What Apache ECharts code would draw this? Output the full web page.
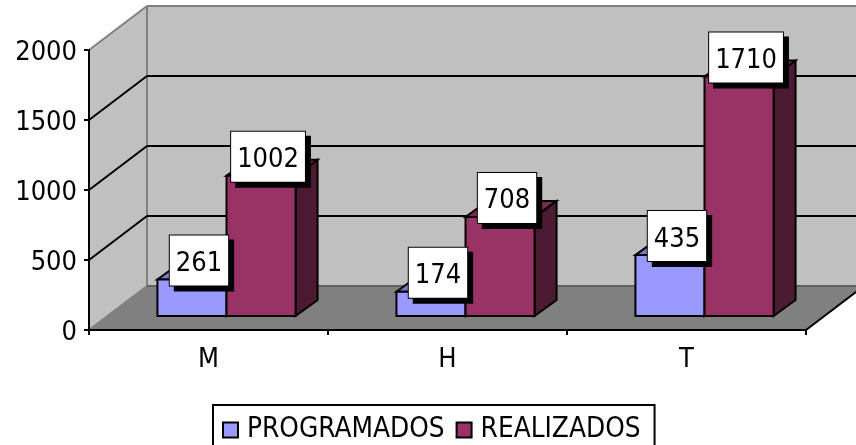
<!DOCTYPE html>
<html>
<head>
<meta charset="utf-8">
<style>
  html, body { margin: 0; padding: 0; background: #fff; }
  #chart { width: 856px; height: 445px; }
</style>
<script src="https://cdn.jsdelivr.net/npm/echarts@6/dist/echarts.min.js"></script>
</head>
<body>
<div id="chart"></div>
<script>
const categories = ['M', 'H', 'T']
const programados = [261, 174, 435]
const realizados = [1002, 708, 1710]
const valueTicks = [0, 500, 1000, 1500, 2000]

const FONT = '"DejaVu Sans Condensed", "DejaVu Sans", Verdana, sans-serif'
// depth of the fake 3D box, in pixels
const DEPTH = { x: 58, y: -44 }
const BAR_FRONT = { x: 18, y: -14 }
const BAR_DEPTH = { x: 22, y: -16 }
const BAR_RATIO = 0.289

const poly = (points, fill, stroke, lineWidth) => ({
  type: 'polygon',
  shape: { points },
  style: { fill, stroke: stroke || null, lineWidth: lineWidth || 0 }
})
const line = (x1, y1, x2, y2, stroke, lineWidth) => ({
  type: 'line',
  shape: { x1, y1, x2, y2 },
  style: { stroke, lineWidth }
})

// walls and floor, plus one gridline per tick value
const renderWalls = (params, api) => {
  const box = params.coordSys
  const y = api.coord([0, api.value(1)])[1]
  const left = box.x
  const right = box.x + box.width
  const bottom = box.y + box.height
  const top = box.y
  const children = []
  if (params.dataIndex === 0) {
    children.push(
      poly([[left, bottom], [left + DEPTH.x, bottom + DEPTH.y], [left + DEPTH.x, top + DEPTH.y], [left, top]], '#c0c0c0'),
      poly([[left + DEPTH.x, bottom + DEPTH.y], [right + DEPTH.x, bottom + DEPTH.y], [right + DEPTH.x, top + DEPTH.y], [left + DEPTH.x, top + DEPTH.y]], '#c0c0c0'),
      poly([[left, bottom], [right, bottom], [right + DEPTH.x, bottom + DEPTH.y], [left + DEPTH.x, bottom + DEPTH.y]], '#808080'),
      line(left + DEPTH.x, bottom + DEPTH.y, left + DEPTH.x, top + DEPTH.y, '#808080', 2),
      line(left + DEPTH.x, top + DEPTH.y, right + DEPTH.x, top + DEPTH.y, '#808080', 2),
      line(left, top, left + DEPTH.x, top + DEPTH.y, '#808080', 2),
      line(left, bottom, left + DEPTH.x, bottom + DEPTH.y, '#808080', 2),
      line(left + DEPTH.x, bottom + DEPTH.y, right + DEPTH.x, bottom + DEPTH.y, '#606060', 2),
      line(right, bottom, right + DEPTH.x, bottom + DEPTH.y, '#000', 2)
    )
  } else if (api.value(1) < 2000) {
    children.push(
      line(left, y, left + DEPTH.x, y + DEPTH.y, '#000', 2),
      line(left + DEPTH.x, y + DEPTH.y, right + DEPTH.x, y + DEPTH.y, '#000', 2)
    )
  }
  return { type: 'group', children }
}

const makeBarRender = (slot, colors) => (params, api) => {
  const value = api.value(1)
  const [cx, yTop] = api.coord([api.value(0), value])
  const yBase = api.coord([api.value(0), 0])[1]
  const w = api.size([1, 0])[0] * BAR_RATIO
  const x0 = cx + BAR_FRONT.x + (slot - 1) * w
  const x1 = x0 + w
  const y0 = yBase + BAR_FRONT.y
  const y1 = yTop + BAR_FRONT.y
  const dx = BAR_DEPTH.x
  const dy = BAR_DEPTH.y
  return {
    type: 'group',
    children: [
      poly([[x1, y0], [x1 + dx, y0 + dy], [x1 + dx, y1 + dy], [x1, y1]], colors.side, '#000', 2),
      poly([[x0, y1], [x1, y1], [x1 + dx, y1 + dy], [x0 + dx, y1 + dy]], colors.top, '#000', 2),
      poly([[x0, y0], [x1, y0], [x1, y1], [x0, y1]], colors.front, '#000', 2),
      {
        type: 'text',
        z2: 100,
        x: x0 + w / 2 + 7,
        y: y1 - 44,
        style: {
          text: String(value),
          font: '27px ' + FONT,
          fill: '#000',
          align: 'center',
          verticalAlign: 'top',
          backgroundColor: '#fff',
          borderColor: '#000',
          borderWidth: 1,
          padding: [15, 6, 8, 6],
          shadowColor: '#000',
          shadowOffsetX: 5,
          shadowOffsetY: 5,
          shadowBlur: 0
        }
      }
    ]
  }
}

const blue = { front: '#9999ff', top: '#7a7acc', side: '#4d4d80' }
const wine = { front: '#993366', top: '#7a2952', side: '#4d1a33' }

const chart = echarts.init(document.getElementById('chart'))
chart.setOption({
  animation: false,
  backgroundColor: '#fff',
  grid: { left: 89, top: 50, width: 717, height: 280 },
  legend: {
    left: 213,
    top: 405,
    selectedMode: false,
    data: ['PROGRAMADOS', 'REALIZADOS'],
    icon: 'rect',
    itemWidth: 15,
    itemHeight: 15,
    itemGap: 11,
    padding: [11, 14, 7, 9],
    borderColor: '#000',
    borderWidth: 2,
    textStyle: { color: '#000', fontFamily: FONT, fontSize: 27.7, padding: [0, 0, 0, 4] }
  },
  xAxis: {
    type: 'category',
    data: categories,
    z: 5,
    axisLine: { lineStyle: { color: '#000', width: 2 } },
    axisTick: { show: true, length: 5, alignWithLabel: false, lineStyle: { color: '#000', width: 2 } },
    axisLabel: { color: '#000', fontFamily: FONT, fontSize: 27, margin: 16 }
  },
  yAxis: {
    type: 'value',
    min: 0,
    max: 2000,
    interval: 500,
    z: 5,
    axisLine: { show: true, lineStyle: { color: '#000', width: 2 } },
    axisTick: { show: true, length: 5, lineStyle: { color: '#000', width: 2 } },
    axisLabel: {
      color: '#000',
      margin: 12,
      // the small empty first line nudges the digits down to the tick
      formatter: v => '{gap| }\n{num|' + v + '}',
      rich: {
        gap: { fontSize: 1, lineHeight: 6 },
        num: { color: '#000', fontFamily: FONT, fontSize: 27, lineHeight: 27 }
      }
    },
    splitLine: { show: false }
  },
  series: [
    {
      name: 'walls',
      type: 'custom',
      z: 1,
      silent: true,
      clip: false,
      renderItem: renderWalls,
      encode: { x: 0, y: 1 },
      data: valueTicks.map(v => [0, v])
    },
    {
      name: 'PROGRAMADOS',
      type: 'custom',
      z: 2,
      itemStyle: { color: blue.front, borderColor: '#000', borderWidth: 2 },
      renderItem: makeBarRender(0, blue),
      encode: { x: 0, y: 1 },
      data: programados.map((v, i) => [i, v])
    },
    {
      name: 'REALIZADOS',
      type: 'custom',
      z: 2,
      itemStyle: { color: wine.front, borderColor: '#000', borderWidth: 2 },
      renderItem: makeBarRender(1, wine),
      encode: { x: 0, y: 1 },
      data: realizados.map((v, i) => [i, v])
    }
  ]
})
</script>
</body>
</html>
